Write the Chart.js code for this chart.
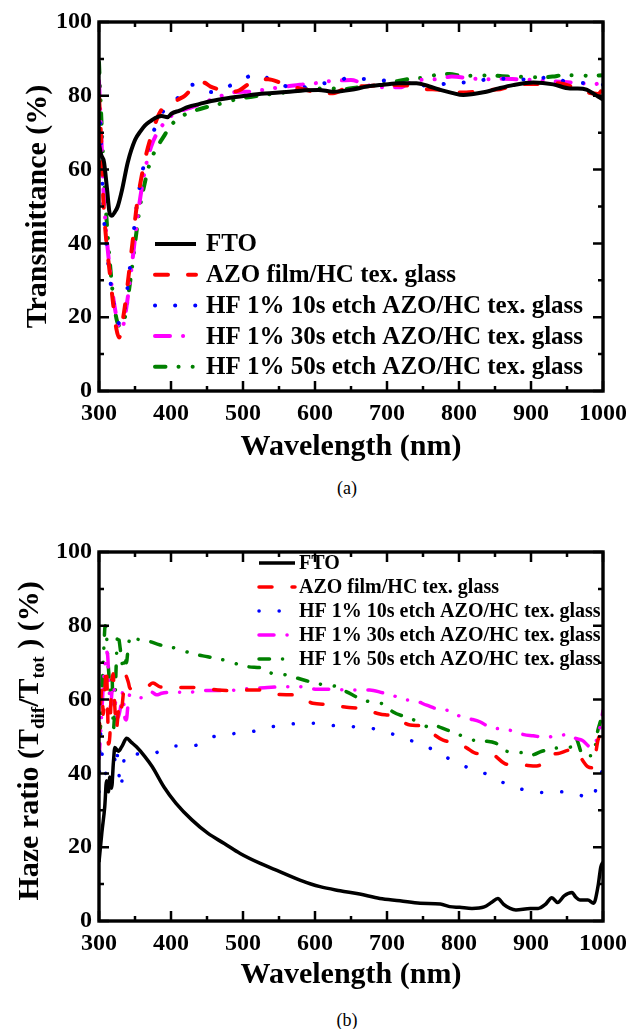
<!DOCTYPE html>
<html><head><meta charset="utf-8">
<script src="https://cdn.jsdelivr.net/npm/chart.js@4.4.0/dist/chart.umd.min.js"></script>
<style>
html,body{margin:0;padding:0;background:#fff;width:626px;height:1029px;overflow:hidden;}
.wrap{position:absolute;left:0;width:626px;}
#wa{top:0;height:470px;}
#wb{top:500px;height:500px;}
.cap{position:absolute;left:297px;width:100px;text-align:center;font-family:"Liberation Serif",serif;font-size:18px;line-height:20px;color:#000;}
</style></head>
<body>
<div class="wrap" id="wa"><canvas id="ca" width="626" height="470"></canvas></div>
<div class="cap" style="top:478px">(a)</div>
<div class="wrap" id="wb"><canvas id="cb" width="626" height="500"></canvas></div>
<div class="cap" style="top:1010px">(b)</div>
<script>
// ---------- DATA: (a) Transmittance [wavelength nm, T %] ----------
const labels = ['FTO','AZO film/HC tex. glass','HF 1% 10s etch AZO/HC tex. glass','HF 1% 30s etch AZO/HC tex. glass','HF 1% 50s etch AZO/HC tex. glass'];
const xTicks = [300,400,500,600,700,800,900,1000];
const yTicks = [0,20,40,60,80,100];

const transFTO = [[300,67],[303,64],[307,62],[311,55],[315,48],[318,47.5],[322,48.5],[326,50],[332,54.5],[340,62],[350,68],[358,70.5],[364,72],[372,73.2],[378,74],[387,74.5],[395,74.2],[401,75.2],[412,76],[424,77],[440,77.8],[456,78.6],[480,79.4],[503,80],[530,80.6],[560,81],[586,81.5],[605,81.6],[625,81.1],[650,81.6],[672,82.5],[695,83],[718,83.4],[741,83.4],[758,82.6],[774,81.6],[790,80.8],[806,80.2],[820,80.5],[838,81.1],[855,82],[875,82.9],[903,83.6],[931,83.1],[954,82],[965,82],[977,81.7],[993,79.8],[1000,79]];
const transAZO = [[300,80],[303,68],[306,52],[310,41],[315,32],[320,23],[324,17],[328,14.5],[331,17],[336,23],[341,31],[347,41],[353,51],[360,59],[366,64.5],[374,70],[382,74.5],[390,77],[400,77.7],[410,79],[419,80],[433,82.7],[445,83.6],[455,82.5],[470,81.5],[480,81],[495,81.5],[510,83.5],[521,84.2],[535,84.5],[554,83.4],[572,82.3],[590,81.5],[607,80.7],[625,80.7],[650,82.6],[670,82.6],[690,82.9],[715,82.9],[740,82.5],[755,81.8],[763,81.8],[785,81.3],[796,80.9],[810,80.9],[838,81.6],[857,81.8],[884,83.2],[903,83.2],[931,83.4],[945,83.2],[965,81.8],[977,81],[993,80.5],[1000,82]];
const transHF10 = [[300,78],[303,66],[306,50],[310,40],[315,31],[320,24],[325,19.5],[330,18],[334,20],[339,27],[345,37],[351,48],[358,57],[364,62.7],[372,68],[380,72.5],[390,76],[402,78],[415,80.5],[431,83],[445,82],[456,81],[470,81.8],[487,83.2],[505,85],[516,85.8],[528,85.3],[542,84],[555,83],[571,81.8],[590,82.5],[610,83.3],[630,84],[651,85],[665,84.6],[680,84.5],[700,84],[718,83.5],[740,83],[764,82.7],[791,83.6],[818,83.6],[845,84.7],[870,84.6],[900,84.4],[925,85],[954,83.6],[982,83.4],[1000,83]];
const transHF30 = [[300,84],[303,70],[306,55],[310,43],[315,33],[320,25],[325,19.5],[330,16.5],[334,18],[339,24],[345,33],[351,43],[357,52],[364,60],[372,66],[381,70],[390,72.5],[400,74.5],[415,76],[430,77],[450,78.5],[470,80],[490,81],[507,81.1],[525,81.5],[540,82],[560,82.5],[579,83],[600,83.4],[621,84],[639,84.2],[650,84.3],[670,83],[696,82.3],[718,82.3],[732,83.6],[746,84.3],[770,84.5],[790,85.2],[815,84.7],[840,84.5],[860,84.6],[880,84.5],[900,84.3],[925,84],[951,83.7],[970,83.4],[990,83.2],[1000,84]];
const transHF50 = [[300,89],[303,75],[306,62],[310,48],[315,35],[320,25],[325,19],[330,17.5],[335,19],[340,25],[346,33.7],[352,43],[357,50],[362.5,55.4],[368,60],[374,63.5],[382,66.5],[390,69],[398,71.5],[407,73.4],[418,74.8],[429,75.7],[445,76.7],[462,77.5],[490,79],[520,80],[550,80.7],[580,81.5],[600,82],[620,82],[640,81.8],[660,82.3],[690,83],[710,83.8],[732,84.6],[755,85],[767,85.6],[787,85.9],[804,85.4],[825,85.4],[844,85.6],[860,85.3],[880,85.2],[900,85],[912,85],[930,85.2],[945,85.6],[964,85.6],[982,85.4],[1000,85.6]];

// ---------- DATA: (b) Haze ratio [wavelength nm, H %] ----------
const hazeFTO = [[300,16],[304,24],[308,31],[310.5,38],[313,35],[315,39],[317.5,36],[320,43],[322,47],[327,46],[331.5,47.2],[338.5,49.5],[345,48.4],[352,47.2],[364,44.5],[374,41.8],[390,36.4],[407,31.9],[429,27.4],[451,23.8],[474,21],[496,18.3],[524,15.6],[551,13.4],[579,11.1],[607,9.3],[635,8.2],[662,7.3],[690,6.1],[718,5.5],[746,4.8],[774,4.6],[787,3.9],[801,3.7],[818,3.4],[835,3.8],[845,5],[854,6.1],[862,4.5],[871,3.4],[879,3],[899,3.4],[910,3.4],[920,4.5],[929,6.3],[937,5],[946,6.8],[957,7.7],[962,6.5],[968,5.7],[979,5.7],[987,4.8],[993,9.3],[997,14.7],[1000,16]];
const hazeAZO = [[300,50],[302,58],[304,63],[306,56],[308,62],[310,69],[312,58],[313,48],[315,50],[317,62],[319.5,67],[322,58],[324,52],[327,57],[329,60],[331.5,58],[334,62],[337,66.5],[341,64.5],[343,63],[350,63.5],[366,63.5],[375,64.5],[384,63.5],[394,63.3],[412,63.3],[440,63.2],[465,62.6],[490,62.4],[510,62.6],[524,62.6],[551,61.4],[575,61.2],[597,59],[617,58.7],[644,57.9],[662,57.6],[690,56.1],[708,55.5],[732,53.1],[750,52.8],[762,51],[778,49],[797,48.2],[810,47],[825,45.4],[843,45.4],[866,42.5],[885,42.3],[908,42],[918,43],[926,44.8],[940,45.5],[952,46.3],[961,46.5],[970,44],[979,41.8],[986,41.5],[993,49],[998,50.7],[1000,50]];
const hazeHF10 = [[300,35],[302,51],[304,46],[306,42],[309,40],[312,41],[315,41.3],[318,41],[321,42],[324,47],[327,41.4],[330,36],[333,40],[336,45.4],[342,45.5],[350,45.4],[360,45],[375,45.3],[390,46.5],[403,47.4],[429,47.4],[456,49.8],[484,50.7],[512,51.3],[537,52.5],[567,53.4],[595,53.6],[623,53],[651,52.7],[679,52.2],[704,50.9],[732,49],[760,46.8],[785,44.1],[813,41.5],[841,39.6],[866,37.1],[892,35.5],[919,34.8],[945,35],[963,34.4],[986,33.2],[993,38.2],[1000,41]];
const hazeHF30 = [[300,44],[302,50],[304,57],[306,64],[308,69],[310,73],[312,72],[314,63],[316,58],[318,62],[320,64],[322,61],[324,57],[326,55],[328,56],[330,58],[333,62],[336,55],[338,54.5],[340,58],[343,61.5],[350,60.8],[360,60.5],[366,61],[373,62],[380,61.3],[387,61.7],[400,62],[424,62],[450,62.5],[480,62.5],[510,63],[530,63.2],[556,63.5],[579,63.5],[602,62.8],[621,62.8],[649,62.6],[676,62.6],[695,61.8],[704,61.5],[723,60],[737,59.8],[755,58.5],[773,57.3],[787,57],[801,55.5],[815,54.8],[829,54],[843,52.5],[861,52],[875,51.5],[890,50.5],[903,50.2],[918,49.8],[930,50],[943,50.4],[954,50.5],[962,49.5],[971,49],[984,47],[990,48.5],[996,52.7],[1000,57]];
const hazeHF50 = [[300,50],[303,55],[305,66],[307,75],[308.5,80],[310,79],[312,72],[314,66],[316,62],[318,67],[320,52],[322,58],[324,70],[326,78],[328,76],[330,73],[332,70],[334,68],[336,72],[338,70],[341,75],[345,77.3],[350,76.5],[362,76.2],[385,74.8],[407,73.9],[429,72.5],[451,71.6],[474,70.7],[507,68.9],[528,68.5],[540,67.1],[556,66.8],[588,65.1],[607,64.2],[625,63.8],[644,62.1],[662,60.3],[681,59.2],[695,58.8],[708,56.7],[732,54.9],[748,53.6],[757,52.6],[762,53.1],[783,51.8],[799,50.6],[815,49.2],[834,48.8],[851,48.2],[866,46],[889,45.6],[901,45],[915,46],[933,46.8],[947,47],[956,47.2],[962,49.5],[972,45],[986,44.8],[993,51.8],[997,54.5],[1000,57]];

// ---------- STYLE ----------
const FONT = '"Liberation Serif", "Times New Roman", serif';
const colors = ['#000000','#ff0000','#0000ff','#ff00ff','#008000'];
const dashes = [[], [13,20], [0.1,20], [15,13,0.1,13,0.1,13], [10.5,13,0.1,14,0.1,13]];
const caps = ['butt','round','round','round','round'];

function pts(arr){ return arr.map(p => ({x:p[0], y:p[1]})); }

const frameTicks = {
  id: 'frameTicks',
  afterDatasetsDraw(chart) {
    const {ctx, chartArea: a, scales: {x, y}} = chart;
    ctx.save();
    ctx.strokeStyle = '#000';
    ctx.lineWidth = 2.5;
    ctx.lineCap = 'butt';
    const mk = (vals) => { const out=[]; vals.forEach((v,i)=>{ out.push([v,10]); if(i<vals.length-1) out.push([(v+vals[i+1])/2,5]); }); return out; };
    ctx.beginPath();
    mk(x.ticks.map(t=>t.value)).forEach(([v,l])=>{
      const p = x.getPixelForValue(v);
      ctx.moveTo(p, a.bottom); ctx.lineTo(p, a.bottom - l);
      ctx.moveTo(p, a.top); ctx.lineTo(p, a.top + l);
    });
    mk(y.ticks.map(t=>t.value)).forEach(([v,l])=>{
      const p = y.getPixelForValue(v);
      ctx.moveTo(a.left, p); ctx.lineTo(a.left + l, p);
      ctx.moveTo(a.right, p); ctx.lineTo(a.right - l, p);
    });
    ctx.stroke();
    ctx.lineWidth = 3.4;
    ctx.strokeRect(a.left, a.top, a.right - a.left, a.bottom - a.top);
    ctx.restore();
  }
};

const lineLegend = {
  id: 'lineLegend',
  afterDraw(chart, args, o) {
    const ctx = chart.ctx;
    ctx.save();
    ctx.font = 'bold ' + o.size + 'px ' + FONT;
    ctx.textBaseline = 'middle';
    ctx.textAlign = 'left';
    chart.data.datasets.forEach((ds, i) => {
      const yy = o.y + i * o.dy;
      ctx.beginPath();
      ctx.strokeStyle = ds.borderColor;
      ctx.lineWidth = ds.borderWidth;
      ctx.setLineDash(ds.borderDash || []);
      ctx.lineCap = ds.borderCapStyle || 'butt';
      ctx.moveTo(o.x0, yy); ctx.lineTo(o.x1, yy);
      ctx.stroke();
      ctx.setLineDash([]);
      ctx.fillStyle = '#000';
      ctx.fillText(ds.label, o.tx, yy + 1);
    });
    ctx.restore();
  }
};

const subTitle = {
  id: 'subTitle',
  afterDraw(chart, args, o) {
    if (!o || !o.parts) return;
    const ctx = chart.ctx;
    ctx.save();
    ctx.translate(o.x, o.y);
    ctx.rotate(-Math.PI / 2);
    ctx.fillStyle = '#000';
    ctx.textBaseline = 'alphabetic';
    ctx.textAlign = 'left';
    const fm = 'bold ' + o.size + 'px ' + FONT, fs = 'bold ' + o.subSize + 'px ' + FONT;
    let total = 0;
    o.parts.forEach(([t, s]) => { ctx.font = s ? fs : fm; total += ctx.measureText(t).width; });
    let cx = -total / 2;
    o.parts.forEach(([t, s]) => {
      ctx.font = s ? fs : fm;
      ctx.fillText(t, cx, s ? o.size * 0.36 + o.subSize * 0.35 : o.size * 0.36);
      cx += ctx.measureText(t).width;
    });
    ctx.restore();
  }
};

function build(canvasId, series, opts) {
  const datasets = series.map((s, i) => ({
    label: labels[i],
    data: pts(s),
    borderColor: colors[i],
    backgroundColor: colors[i],
    borderWidth: opts.lw,
    borderDash: dashes[i],
    borderCapStyle: caps[i],
    borderJoinStyle: 'round',
    pointRadius: 0,
    fill: false,
    tension: 0.4,
    cubicInterpolationMode: 'monotone'
  }));
  return new Chart(document.getElementById(canvasId), {
    type: 'line',
    data: { datasets },
    plugins: [frameTicks, lineLegend, subTitle],
    options: {
      responsive: false,
      animation: false,
      layout: { padding: { top: opts.top, right: 23, left: 0, bottom: 0 } },
      plugins: {
        legend: { display: false },
        tooltip: { enabled: false },
        lineLegend: opts.legend,
        subTitle: opts.sub || {}
      },
      scales: {
        x: {
          type: 'linear', min: 300, max: 1000,
          afterBuildTicks: sc => { sc.ticks = xTicks.map(v => ({value: v})); },
          ticks: { color: '#000', padding: 8, maxRotation: 0, callback: v => String(v), font: { family: FONT, size: 24, weight: 'bold' } },
          grid: { display: false, drawTicks: false },
          border: { display: false },
          title: { display: true, text: 'Wavelength (nm)', color: '#000', padding: { top: 0, bottom: opts.xtPad }, font: { family: FONT, size: 30, weight: 'bold', lineHeight: 1.2 } },
          afterFit: sc => { sc.height = 79; sc.paddingLeft = 0; sc.paddingRight = 0; }
        },
        y: {
          type: 'linear', min: 0, max: 100,
          afterBuildTicks: sc => { sc.ticks = yTicks.map(v => ({value: v})); },
          ticks: { color: '#000', padding: 7, callback: v => String(v), font: { family: FONT, size: 24, weight: 'bold' } },
          grid: { display: false, drawTicks: false },
          border: { display: false },
          title: { display: !!opts.ytitle, text: opts.ytitle || '', color: '#000', padding: { top: 20, bottom: 0 }, font: { family: FONT, size: 30, weight: 'bold', lineHeight: 1.2 } },
          afterFit: sc => { sc.width = 99; sc.paddingTop = 0; sc.paddingBottom = 0; }
        }
      }
    }
  });
}

build('ca', [transFTO, transAZO, transHF10, transHF30, transHF50], {
  lw: 4, top: 22, xtPad: 5, ytitle: 'Transmittance (%)',
  legend: { x0: 155, x1: 196, tx: 206, y: 244, dy: 30.7, size: 25 }
});
build('cb', [hazeFTO, hazeAZO, hazeHF10, hazeHF30, hazeHF50], {
  lw: 3.5, top: 52, xtPad: 7, ytitle: '',
  legend: { x0: 259, x1: 295, tx: 299, y: 63, dy: 24, size: 20 },
  sub: { x: 27, y: 241, size: 30, subSize: 19, parts: [['Haze ratio (T',0],['dif',1],['/T',0],['tot',1],[' ) (%)',0]] }
});
</script>
</body></html>
